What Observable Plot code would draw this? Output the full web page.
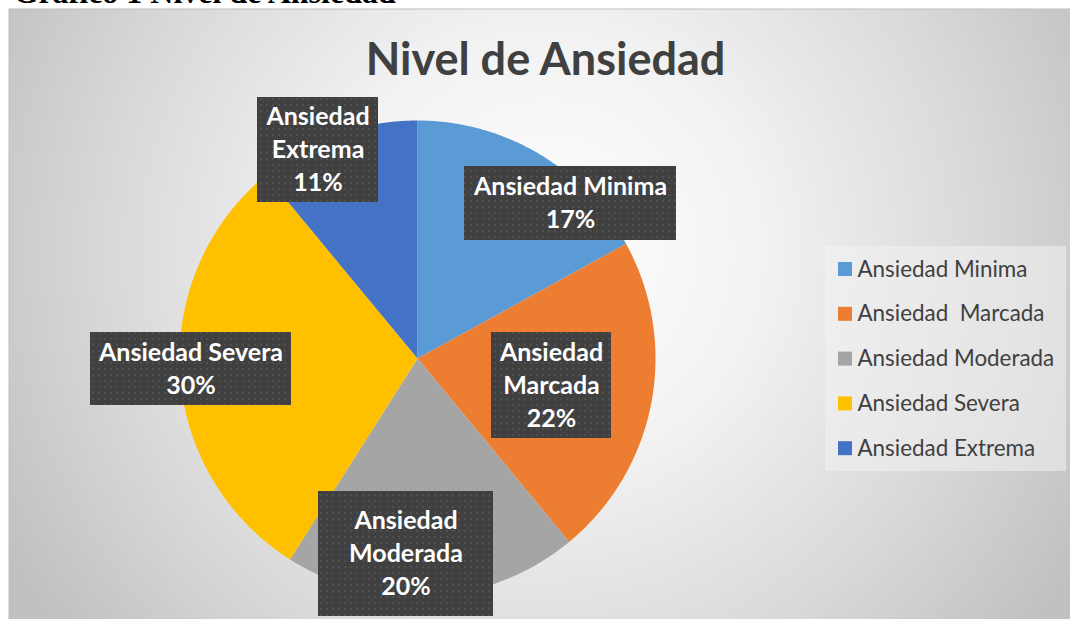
<!DOCTYPE html>
<html><head><meta charset="utf-8">
<script src="https://cdn.jsdelivr.net/npm/d3@7"></script>
<script src="https://cdn.jsdelivr.net/npm/@observablehq/plot@0.6"></script>
<style>html,body{margin:0;padding:0;background:#fff;overflow:hidden}svg{display:block}</style>
</head><body><div id="chart"></div>
<script>
// ---- data ----
const categories = ["Ansiedad Minima", "Ansiedad  Marcada", "Ansiedad Moderada", "Ansiedad Severa", "Ansiedad Extrema"];
const percentages = [17, 22, 20, 30, 11];
const colors = ["#5b9bd5", "#ed7d31", "#a5a5a5", "#ffc000", "#4472c4"];
const labelNames = [["Ansiedad Minima"], ["Ansiedad", "Marcada"], ["Ansiedad", "Moderada"], ["Ansiedad Severa"], ["Ansiedad", "Extrema"]];
const title = "Nivel de Ansiedad";
const caption = "Gráfico 1 Nivel de Ansiedad";

// ---- layout ----
const W = 1070, H = 619;
const cx = 417, cy = 358, R = 238;
const boxes = [
  {x1: 464, x2: 676, y1: 166, y2: 240},
  {x1: 491, x2: 611, y1: 332, y2: 438},
  {x1: 318, x2: 493, y1: 491, y2: 616},
  {x1: 90,  x2: 291, y1: 332, y2: 405},
  {x1: 257, x2: 378, y1: 97,  y2: 202}
];
const lineGap = 33;
const legend = {x1: 825, x2: 1066, y1: 246, y2: 471, swX: 838, sw: 14, textX: 857, y0: 269, step: 44.8};

// ---- pie geometry from data ----
const total = d3.sum(percentages);
const piePoints = [];
let acc = 0;
categories.forEach((cat, i) => {
  const a0 = acc / total * 2 * Math.PI;
  acc += percentages[i];
  const a1 = acc / total * 2 * Math.PI;
  piePoints.push({cat, x: cx, y: cy});
  const n = Math.max(2, Math.ceil((a1 - a0) / (Math.PI / 360)));
  for (let k = 0; k <= n; k++) {
    const a = a0 + (a1 - a0) * k / n;
    piePoints.push({cat, x: cx + R * Math.sin(a), y: cy - R * Math.cos(a)});
  }
});

// label lines
const labelRows = [];
categories.forEach((cat, i) => {
  const lines = [...labelNames[i], `${percentages[i]}%`];
  const b = boxes[i];
  const mid = (b.y1 + b.y2) / 2;
  lines.forEach((t, j) => {
    labelRows.push({text: t, x: (b.x1 + b.x2) / 2, y: mid + (j - (lines.length - 1) / 2) * lineGap});
  });
});

const legendRows = categories.map((cat, i) => ({cat, y: legend.y0 + i * legend.step}));

const font = "Lato, 'Open Sans', sans-serif";

const chart = Plot.plot({
  width: W, height: H,
  margin: 0,
  x: {domain: [0, W], range: [0, W], axis: null},
  y: {domain: [0, H], range: [0, H], axis: null},
  color: {domain: categories, range: colors},
  style: {background: "#ffffff", overflow: "visible"},
  marks: [
    Plot.frame({fill: "url(#bg)", stroke: "#bdbdbd", strokeWidth: 1, insetLeft: 8.5, insetTop: 8.5, insetRight: -5, insetBottom: -5}),
    Plot.text([caption], {x: 13, y: -7.4, text: d => d, textAnchor: "start", fontFamily: "'Liberation Serif', 'DejaVu Serif', serif", fontWeight: "bold", fontSize: 32, fill: "#000"}),
    Plot.text([title], {x: 545, y: 60, text: d => d, fontFamily: font, fontWeight: "bold", fontSize: 45, fill: "#404040"}),
    Plot.line(piePoints, {x: "x", y: "y", z: "cat", fill: "cat", stroke: "none"}),
    Plot.rect(boxes, {x1: "x1", x2: "x2", y1: "y1", y2: "y2", fill: "url(#dots)", ariaLabel: "label-box"}),
    Plot.text(labelRows, {x: "x", y: "y", text: "text", fill: "#ffffff", fontFamily: font, fontWeight: "bold", fontSize: 25}),
    Plot.rect([legend], {x1: "x1", x2: "x2", y1: "y1", y2: "y2", fill: "#f2f2f2", fillOpacity: 0.55}),
    Plot.rect(legendRows, {x1: legend.swX, x2: legend.swX + legend.sw, y1: d => d.y - legend.sw / 2, y2: d => d.y + legend.sw / 2, fill: "cat"}),
    Plot.text(legendRows, {x: legend.textX, y: "y", text: "cat", textAnchor: "start", fontFamily: font, fontSize: 22.4, fill: "#404040"})
  ]
});

const svg = d3.select(chart);
svg.insert("defs", ":first-child").html(`
  <radialGradient id="bg" gradientUnits="userSpaceOnUse" cx="545" cy="250" r="620">
    <stop offset="0" stop-color="#ffffff"/>
    <stop offset="0.35" stop-color="#f2f2f2"/>
    <stop offset="0.7" stop-color="#d9d9d9"/>
    <stop offset="1" stop-color="#c0c0c0"/>
  </radialGradient>
  <pattern id="dots" patternUnits="userSpaceOnUse" width="6" height="6">
    <rect width="6" height="6" fill="#404040"/>
    <rect x="2" y="2" width="2" height="2" fill="#4f4f4f"/>
  </pattern>
  <filter id="shadow" x="-20%" y="-20%" width="150%" height="150%">
    <feGaussianBlur in="SourceAlpha" stdDeviation="2.5"/>
    <feOffset dx="3" dy="3" result="ob"/>
    <feComponentTransfer><feFuncA type="linear" slope="0.55"/></feComponentTransfer>
    <feMerge><feMergeNode/><feMergeNode in="SourceGraphic"/></feMerge>
  </filter>`);
svg.selectAll('g[aria-label="label-box"]').attr("filter", "url(#shadow)");

document.getElementById("chart").appendChild(chart);
</script>
</body></html>
